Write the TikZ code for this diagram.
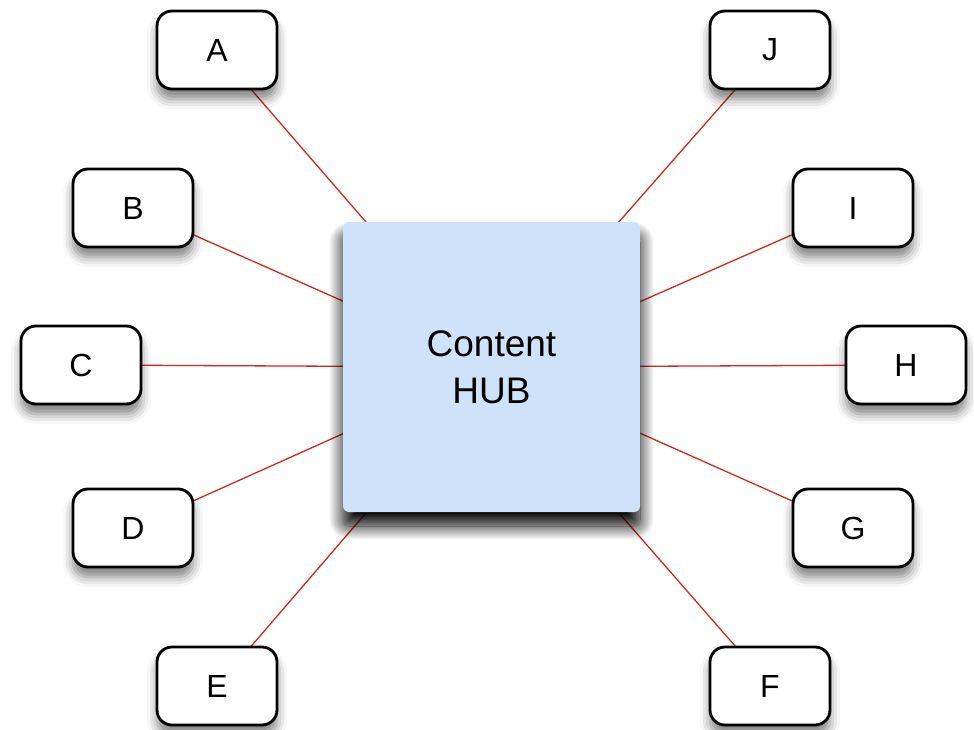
\documentclass[tikz,border=0pt]{standalone}
\usepackage{fontspec}
\setmainfont{Liberation Sans}
\usetikzlibrary{shadows.blur,backgrounds}
\definecolor{hubblue}{HTML}{CEE3FA}
\definecolor{linkred}{HTML}{CC2A1E}
\tikzset{
  leaf/.style={draw=black, line width=2.8pt, fill=white, rounded corners=15pt,
    minimum width=120pt, minimum height=78pt, inner sep=0pt,
    font=\fontsize{32}{36}\selectfont,
    blur shadow={shadow xshift=0pt, shadow yshift=-10pt, shadow blur radius=10pt, shadow opacity=50}},
  hubbox/.style={fill=hubblue, rounded corners=6pt,
    minimum width=297pt, minimum height=290pt, inner sep=0pt, align=center,
    font=\fontsize{37}{47}\selectfont,
    blur shadow={shadow xshift=0pt, shadow yshift=-14pt, shadow blur radius=14pt, shadow opacity=100, shadow blur steps=24}},
  link/.style={draw=linkred, line width=1.3pt}
}
\begin{document}
\begin{tikzpicture}[x=1pt,y=-1pt]
\useasboundingbox (0,0) rectangle (974,730);
\node[hubbox] (hub) at (491.5,367) {Content\\HUB};
\node[leaf] (A) at (217,50) {A};
\node[leaf] (J) at (770,50) {J};
\node[leaf] (B) at (133,208) {B};
\node[leaf] (I) at (853,208) {I};
\node[leaf] (C) at (81,365) {C};
\node[leaf] (H) at (906,365) {H};
\node[leaf] (D) at (133,528) {D};
\node[leaf] (G) at (853,528) {G};
\node[leaf] (E) at (217,686) {E};
\node[leaf] (F) at (770,686) {F};
\begin{pgfonlayer}{background}
\foreach \n in {A,B,C,D,E,F,G,H,I,J}{
  \draw[link] (\n.center) -- (hub.center);
}
\end{pgfonlayer}
\end{tikzpicture}
\end{document}
